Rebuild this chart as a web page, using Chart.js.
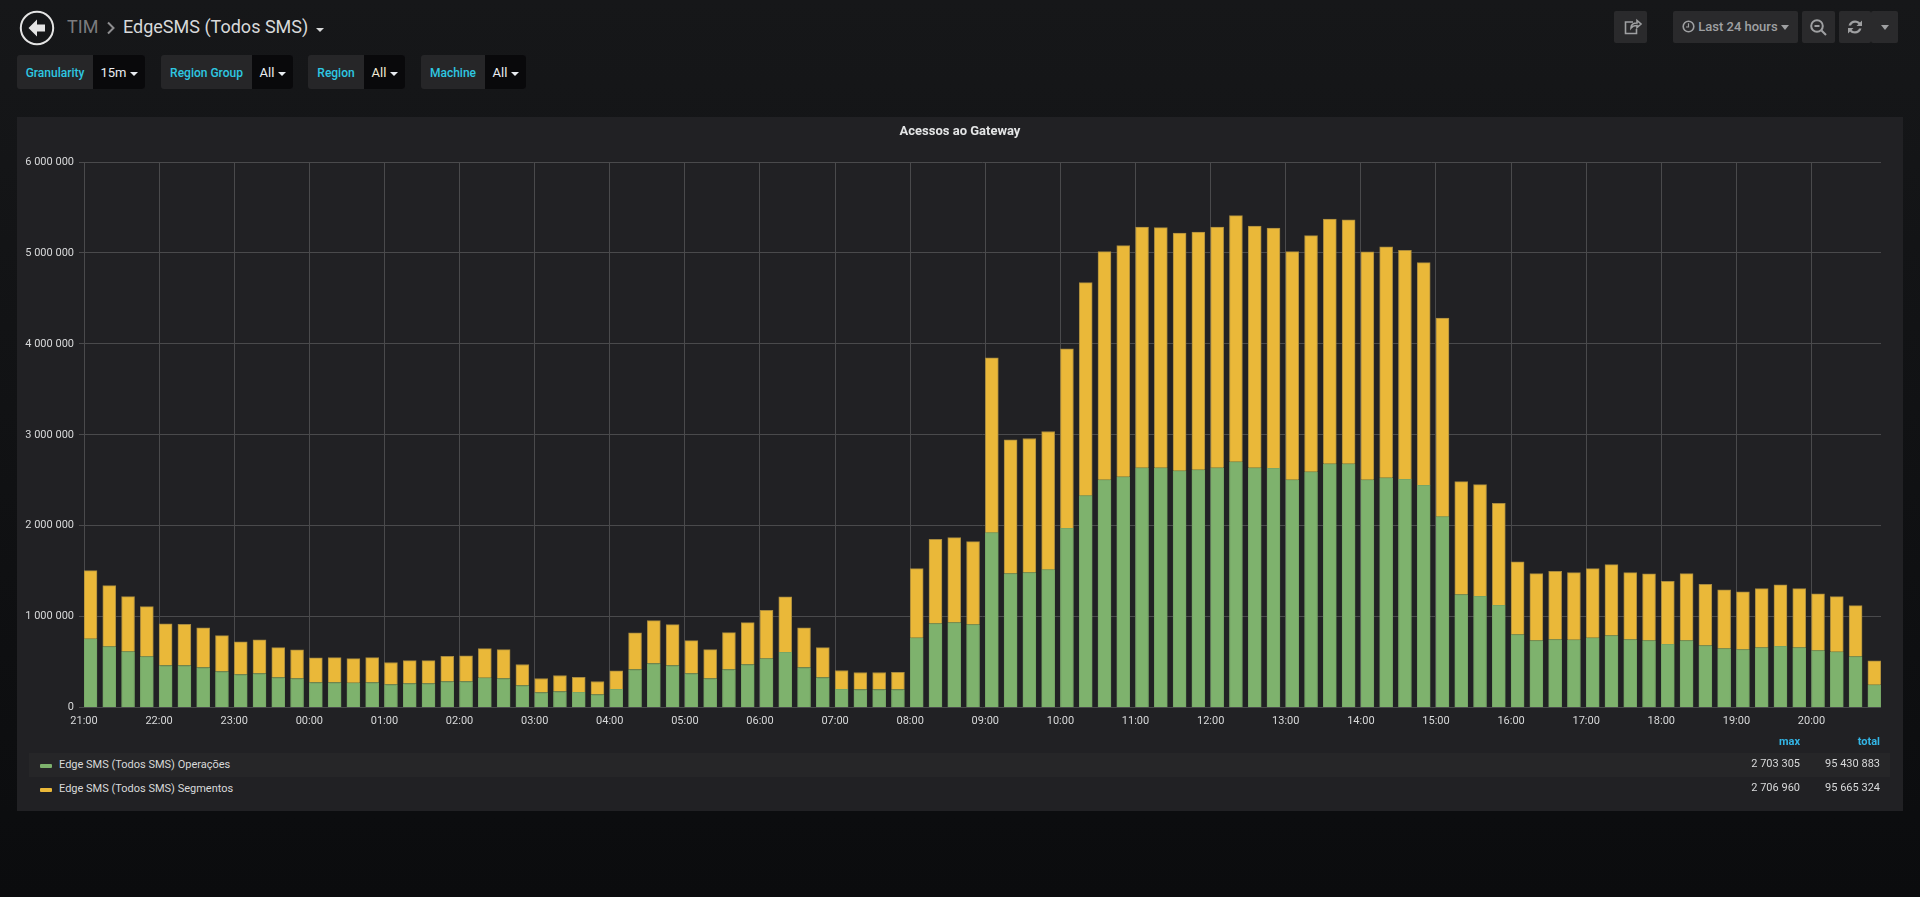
<!DOCTYPE html>
<html>
<head>
<meta charset="utf-8">
<title>EdgeSMS (Todos SMS)</title>
<script src="https://cdn.jsdelivr.net/npm/chart.js@4"></script>
<style>
  html, body { margin: 0; height: 100%; overflow: hidden; }
  body { background: linear-gradient(#161719, #0b0c0e); font-family: Roboto, sans-serif; color: #d8d9da; position: relative; width: 1920px; height: 897px; }
  .abs { position: absolute; white-space: nowrap; }
  .crumb { top: 13px; font-size: 18px; line-height: 28px; }
  .btn { position: absolute; top: 11px; height: 32px; background: #2a2a2c; border-radius: 2px; color: #9fa0a2; font-size: 13px; font-weight: 500; line-height: 32px; box-sizing: border-box; }
  .caret { display: inline-block; border-left: 4px solid transparent; border-right: 4px solid transparent; border-top: 4px solid currentColor; vertical-align: middle; }
  .var { position: absolute; top: 55px; height: 34px; background: #262628; border-radius: 3px; font-size: 12px; line-height: 36px; box-sizing: border-box; overflow: hidden; }
  .var b { position: absolute; left: 0; top: 0; bottom: 0; text-align: center; font-weight: 500; color: #2ec8e2; }
  .var span { position: absolute; top: 0; bottom: 0; right: 0; background: #09090b; color: #e9edf2; text-align: center; font-size: 13px; }
  #panel { position: absolute; left: 17px; top: 117px; width: 1886px; height: 694px; background: #212124; }
  #chart { position: absolute; left: 0; top: 0; }
  #panelTitle { position: absolute; left: 0; right: 0; top: 5px; text-align: center; font-size: 13px; font-weight: 700; line-height: 18px; color: #e4e5e6; z-index: 1; }
  .row { position: absolute; left: 12px; width: 1861px; height: 24px; line-height: 23px; font-size: 11px; color: #d8d9da; }
  .row i { position: absolute; left: 11px; top: 11px; width: 12px; height: 4px; border-radius: 1px; }
  .row em { position: absolute; left: 30px; font-style: normal; }
  .val { position: absolute; text-align: right; font-size: 11px; }
  .head { color: #33b5e5; font-weight: 700; }
</style>
</head>
<body>

<svg class="abs" style="left:19px;top:10px" width="36" height="36" viewBox="0 0 36 36">
  <circle cx="18" cy="18" r="16.2" fill="none" stroke="#e4e4e4" stroke-width="2"/>
  <path d="M18 9.5 L9.5 18 L18 26.5 V21.5 H26 V14.5 H18 Z" fill="#e4e4e4"/>
</svg>
<div class="abs crumb" style="left:67px;color:#7b7b7e">TIM</div>
<svg class="abs" style="left:106px;top:21px" width="10" height="14" viewBox="0 0 10 14"><path d="M2 1.5 L7.5 7 L2 12.5" fill="none" stroke="#8e8e90" stroke-width="2"/></svg>
<div class="abs crumb" style="left:123px;color:#d8d9da">EdgeSMS (Todos SMS)</div>
<div class="abs caret" style="left:316px;top:28px;color:#d8d9da"></div>

<div class="var" style="left:17px;width:128px"><b style="width:76px">Granularity</b><span style="width:52px">15m <i class="caret"></i></span></div>
<div class="var" style="left:161px;width:132px"><b style="width:91px">Region Group</b><span style="width:41px">All <i class="caret"></i></span></div>
<div class="var" style="left:308px;width:97px"><b style="width:56px">Region</b><span style="width:41px;color:#f0ead6">All <i class="caret" style="color:#e9edf2"></i></span></div>
<div class="var" style="left:421px;width:105px"><b style="width:64px">Machine</b><span style="width:41px">All <i class="caret"></i></span></div>

<div class="btn" style="left:1614px;width:33px">
  <svg width="33" height="32" viewBox="0 0 33 32"><path d="M19 11 H11.5 V22.5 H22.5 V18 M17 17 C17 13 20 12 23 12 V9.5 L27 13 L23 16.5 V14.5 C20.5 14.5 18.5 15 17 17 Z" fill="none" stroke="#9fa0a2" stroke-width="1.6"/></svg>
</div>
<div class="btn" style="left:1673px;width:125px;padding-left:9px">
  <svg width="13" height="13" viewBox="0 0 13 13" style="vertical-align:-2px"><circle cx="6.5" cy="6.5" r="5.3" fill="none" stroke="#9fa0a2" stroke-width="1.6"/><path d="M6.5 3.2 V7 H4" fill="none" stroke="#9fa0a2" stroke-width="1.2"/></svg>
  Last 24 hours <i class="caret" style="border-left-width:4.5px;border-right-width:4.5px;border-top-width:5px"></i>
</div>
<div class="btn" style="left:1802px;width:33px">
  <svg width="33" height="32" viewBox="0 0 33 32"><circle cx="15" cy="15" r="5.8" fill="none" stroke="#9fa0a2" stroke-width="2"/><path d="M12.5 15 H17.5 M19.5 19.5 L24 24" stroke="#9fa0a2" stroke-width="2"/></svg>
</div>
<div class="btn" style="left:1839px;width:32px">
  <svg width="32" height="32" viewBox="0 0 32 32"><path d="M9.5 14.5 C10.5 11 13 9.5 16 9.5 C18.5 9.5 20 10.5 21 11.5 L23 9.5 V15 H17.5 L19.5 13 C18.5 12 17.5 11.7 16 11.7 C14 11.7 12.7 12.8 12 14.5 Z M22.5 17.5 C21.5 21 19 22.5 16 22.5 C13.5 22.5 12 21.5 11 20.5 L9 22.5 V17 H14.5 L12.5 19 C13.5 20 14.5 20.3 16 20.3 C18 20.3 19.3 19.2 20 17.5 Z" fill="#9fa0a2"/></svg>
</div>
<div class="btn" style="left:1871px;width:27px;text-align:center"><i class="caret" style="border-left-width:4.5px;border-right-width:4.5px;border-top-width:5px"></i></div>

<div id="panel">
  <div id="panelTitle">Acessos ao Gateway</div>
  <canvas id="chart"></canvas>
  <div class="val head" style="right:103px;top:618px">max</div>
  <div class="val head" style="right:23px;top:618px">total</div>
  <div class="row" id="row0" style="top:636px;background:#262628"><i></i><em></em></div>
  <div class="row" id="row1" style="top:660px"><i></i><em></em></div>
  <div class="val" id="max0" style="right:103px;top:640px"></div>
  <div class="val" id="total0" style="right:23px;top:640px"></div>
  <div class="val" id="max1" style="right:103px;top:664px"></div>
  <div class="val" id="total1" style="right:23px;top:664px"></div>
</div>

<script>
// x tick labels, one per hour, starting at 21:00
const hourLabels = ['21:00','22:00','23:00','00:00','01:00','02:00','03:00','04:00','05:00','06:00','07:00','08:00',
  '09:00','10:00','11:00','12:00','13:00','14:00','15:00','16:00','17:00','18:00','19:00','20:00'];

// values, one bar every 15 minutes
const operacoes = [
  755000,670000,615000,560000,462000,462000,440000,396000,363000,374000,330000,319000,
  275000,275000,271000,275000,253000,264000,264000,286000,286000,326000,319000,242000,
  165000,176000,168000,143000,201000,418000,484000,462000,374000,319000,418000,473000,
  538000,608000,440000,330000,201000,198000,198000,198000,766000,923000,934000,912000,
  1923000,1473000,1484000,1516000,1971000,2330000,2505000,2538000,2637000,2637000,2604000,2615000,
  2637000,2703305,2637000,2630000,2505000,2593000,2681000,2681000,2505000,2527000,2509000,2443000,
  2099000,1242000,1223000,1125000,802000,736000,747000,744000,766000,791000,747000,736000,
  696000,736000,681000,648000,637000,659000,674000,659000,626000,612000,560000,249000
];
const segmentos = [
  750000,671000,605000,550000,457000,454000,435000,395000,359000,370000,329000,315000,
  271000,274000,267000,274000,242000,252000,252000,278000,282000,322000,318000,231000,
  154000,176000,165000,143000,202000,402000,472000,450000,362000,318000,406000,461000,
  532000,608000,435000,329000,206000,187000,187000,190000,761000,927000,934000,912000,
  1923000,1472000,1475000,1520000,1974000,2343000,2510000,2543000,2646000,2642000,2613000,2613000,
  2646000,2706960,2657000,2642000,2510000,2598000,2690000,2683000,2506000,2539000,2520000,2450000,
  2184000,1242000,1228000,1120000,799000,737000,751000,740000,761000,780000,737000,733000,
  692000,737000,674000,645000,634000,649000,674000,649000,623000,608000,561000,264000
];

const seriesNames = ['Edge SMS (Todos SMS) Operações', 'Edge SMS (Todos SMS) Segmentos'];
const seriesColors = ['#7eb26d', '#eab839'];
const seriesEdges = ['#76a566', '#a88a3e'];
const seriesMax = ['2 703 305', '2 706 960'];
const seriesTotal = ['95 430 883', '95 665 324'];

const slotMinutes = 15;
const barMinutes = 10.4; // each bar starts on its time and covers this many minutes
const axisEndMinutes = 1435.5;

// 6000000 -> 6 000 000
function spaced(value) {
  return String(value).replace(/\B(?=(\d{3})+$)/g, ' ');
}

// bar centre sits half a bar after the slot start, bars are left aligned like in the original
function toPoints(values) {
  return values.map((v, i) => ({ x: i * slotMinutes + barMinutes / 2, y: v }));
}

const canvas = document.getElementById('chart');
canvas.width = 1886;
canvas.height = 625;
canvas.style.width = '1886px';
canvas.style.height = '625px';

new Chart(canvas.getContext('2d'), {
  type: 'bar',
  data: {
    datasets: [operacoes, segmentos].map((values, i) => ({
      label: seriesNames[i],
      data: toPoints(values),
      backgroundColor: seriesColors[i],
      borderColor: seriesEdges[i],
      borderWidth: { top: 1, left: 1, right: 1, bottom: 0 },
      barThickness: 13
    }))
  },
  options: {
    responsive: false,
    animation: false,
    layout: { padding: { top: 45, right: 22, bottom: 0, left: 0 } },
    plugins: {
      legend: { display: false },
      tooltip: { enabled: false }
    },
    scales: {
      x: {
        type: 'linear',
        stacked: true,
        min: 0,
        max: axisEndMinutes,
        offset: false,
        grid: { color: '#4a4a4c', offset: false, drawTicks: false, lineWidth: 1 },
        border: { display: false },
        ticks: {
          stepSize: 60,
          includeBounds: false,
          autoSkip: false,
          maxRotation: 0,
          color: '#d8d9da',
          font: { family: 'Roboto', size: 11 },
          padding: 7,
          callback: value => hourLabels[value / 60]
        },
        afterFit: scale => { scale.height = 34.5; }
      },
      y: {
        stacked: true,
        min: 0,
        max: 6000000,
        grid: { color: '#4a4a4c', tickLength: 5, lineWidth: 1 },
        border: { display: false },
        ticks: {
          stepSize: 1000000,
          color: '#d8d9da',
          font: { family: 'Roboto', size: 11 },
          padding: 5,
          callback: value => spaced(value)
        },
        afterFit: scale => { scale.width = 67; }
      }
    }
  }
});

// legend table under the chart
seriesNames.forEach((name, i) => {
  const row = document.getElementById('row' + i);
  row.querySelector('i').style.background = seriesColors[i];
  row.querySelector('em').textContent = name;
  document.getElementById('max' + i).textContent = seriesMax[i];
  document.getElementById('total' + i).textContent = seriesTotal[i];
});
</script>
</body>
</html>
